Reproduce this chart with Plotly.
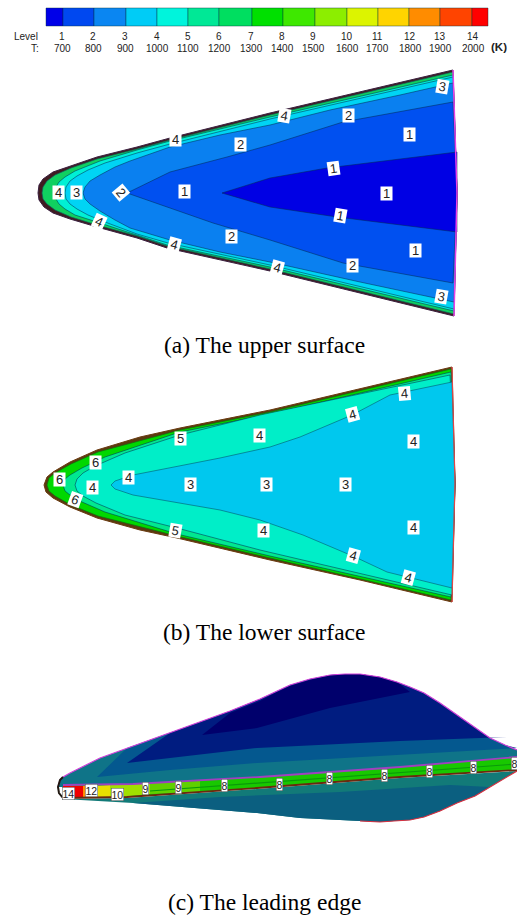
import plotly.graph_objects as go

# colour legend
bar_edges = [46, 63, 94, 126, 157, 188, 219, 252, 283, 315, 347, 378, 409, 440, 472, 488]
bar_colors = ['#0000e8', '#0048f0', '#0a86f2', '#00ccf6', '#00f4dc', '#00e896', '#00de60', '#00e000',
              '#3ee800', '#8cee00', '#dcf400', '#ffd400', '#ff8c00', '#ff4400', '#ff0000']
level_names = ['1', '2', '3', '4', '5', '6', '7', '8', '9', '10', '11', '12', '13', '14']
temps = ['700', '800', '900', '1000', '1100', '1200', '1300', '1400', '1500', '1600', '1700', '1800', '1900', '2000']
level_x = [62, 93, 125, 157, 188, 219, 251, 282, 313, 347, 377, 410, 440, 473]

# (a) upper surface, outermost region first
up_outline = [(453, 70), (360, 92), (270, 113), (170, 138), (137, 147), (97, 157), (70, 166), (53, 172), (43, 179), (39, 185), (38, 193),
              (39, 200), (44, 207), (53, 213), (70, 219), (97, 227), (137, 238), (167, 248), (270, 271), (360, 293), (454, 316), (457, 193)]
up_green = [(453, 72), (270, 115), (170, 140), (137, 149), (97, 159), (71, 168), (55, 175), (47, 181), (43, 187), (42, 193),
            (43, 199), (47, 204), (55, 210), (71, 217), (97, 225), (137, 236), (167, 246), (270, 269), (454, 314), (457, 193)]
up_turq = [(453, 75), (270, 117), (170, 141), (137, 150), (100, 161), (75, 171), (65, 177), (59, 182), (56, 187), (55, 193),
           (56, 199), (59, 204), (65, 209), (75, 215), (100, 223), (137, 235), (167, 245), (270, 267), (454, 311), (457, 193)]
up_cyan = [(453, 77), (270, 119), (170, 144), (137, 153), (105, 163), (88, 170), (77, 176), (70, 181), (66, 187), (65, 193),
           (66, 199), (70, 204), (77, 209), (88, 215), (105, 222), (137, 234), (168, 243), (270, 265), (454, 309), (457, 193)]
up_mid = [(453, 83), (400, 95), (330, 110), (270, 125), (220, 135), (170, 147), (130, 161), (115, 167), (100, 175), (90, 181), (85, 187), (83, 193),
          (85, 199), (90, 204), (100, 211), (115, 220), (130, 228), (170, 240), (220, 252), (270, 262), (360, 282), (454, 302), (457, 193)]
up_blue = [(453, 102), (343, 122), (270, 145), (227, 157), (170, 172), (127, 193), (170, 208), (213, 223),
           (270, 240), (343, 263), (453, 283), (457, 193)]
up_deep = [(457, 152), (327, 168), (270, 178), (222, 193), (270, 207), (337, 217), (457, 232)]

up_labels = ['4', '3', '2', '1', '4', '2', '4', '2', '3', '1', '1', '1', '1', '1', '2', '4', '2', '4', '4', '3']
up_label_x = [58, 76, 121, 184, 175, 240, 284, 348, 442, 409, 333, 386, 340, 415, 352, 277, 231, 174, 99, 441]
up_label_y = [192, 192, 192, 191, 139, 144, 115, 115, 86, 134, 168, 193, 215, 250, 265, 267, 236, 244, 221, 296]
up_label_ang = [0, 0, 50, 0, 0, 0, 10, 0, 10, 0, -8, 0, 10, 0, 0, 15, 0, 15, 25, 10]

# (b) lower surface
lo_outline = [(452, 367), (360, 389), (270, 410), (180, 428), (140, 437), (97, 450), (70, 462), (53, 472), (47, 477), (44, 485),
              (46, 492), (53, 498), (70, 507), (97, 518), (140, 530), (177, 538), (270, 560), (360, 580), (452, 602), (455, 483)]
lo_green = [(451, 369), (270, 412), (180, 430), (98, 452), (71, 464), (55, 473), (49, 478), (47, 485),
            (49, 491), (55, 496), (71, 505), (98, 516), (177, 536), (270, 558), (451, 600), (455, 483)]
lo_spring = [(451, 372), (270, 414), (180, 432), (105, 457), (82, 468), (70, 475), (65, 479), (63, 485),
             (65, 491), (70, 495), (82, 502), (105, 512), (177, 534), (270, 556), (451, 597), (455, 483)]
lo_turq = [(450, 375), (260, 415), (180, 435), (125, 453), (95, 466), (83, 473), (77, 479), (75, 485),
           (77, 491), (83, 496), (96, 503), (125, 515), (177, 528), (260, 550), (452, 595), (455, 483)]
lo_cyan = [(452, 382), (390, 395), (352, 415), (300, 437), (270, 447), (220, 458), (133, 475), (115, 481), (111, 485),
           (115, 489), (133, 495), (220, 510), (260, 520), (303, 535), (355, 557), (387, 572), (452, 588), (455, 483)]

lo_labels = ['6', '6', '4', '4', '6', '5', '4', '3', '3', '3', '4', '4', '4', '4', '4', '4', '4', '5']
lo_label_x = [59, 95, 92, 128, 75, 180, 259, 190, 266, 345, 352, 404, 413, 413, 353, 408, 263, 175]
lo_label_y = [479, 462, 487, 477, 499, 438, 435, 484, 484, 484, 414, 393, 441, 527, 555, 577, 530, 530]
lo_label_ang = [0, 0, 0, 0, 20, 0, 0, 0, 0, 0, -15, -5, 0, 0, 15, 15, 0, 10]

# (c) leading edge
le_top_outline = [(58, 787), (60, 780), (63, 777), (70, 773), (100, 758), (130, 747), (170, 733), (200, 722), (230, 711), (260, 699),
                  (275, 692), (290, 685), (310, 679), (330, 675), (345, 674), (360, 674), (380, 677), (397, 682), (410, 687),
                  (424, 693), (440, 703), (457, 715), (475, 728), (490, 738), (505, 745), (517, 750)]
le_top_base = [(517, 757), (400, 767), (260, 777), (133, 785), (63, 787)]
le_band3 = [(517, 748), (400, 755), (257, 763), (170, 770), (97, 777), (127, 748), (200, 722), (330, 700), (490, 738), (505, 745)]
le_band2 = [(507, 737), (400, 741), (257, 748), (170, 758), (127, 763), (170, 733), (200, 722), (230, 711), (260, 699), (275, 692),
            (290, 685), (310, 679), (330, 675), (345, 674), (360, 674), (380, 677), (397, 682), (410, 687), (424, 693), (440, 703),
            (457, 715), (475, 728), (490, 738)]
le_band1 = [(410, 692), (330, 708), (257, 728), (202, 735), (230, 713), (260, 701), (275, 693), (290, 686), (310, 680), (330, 675),
            (345, 674), (360, 674), (380, 677), (397, 682)]
le_strip = [(63, 785), (133, 784), (260, 777), (400, 767), (517, 757), (517, 770), (400, 777), (257, 788), (127, 797), (63, 798)]
le_red = [(63, 786), (83, 786), (83, 798), (63, 798)]
le_orange = [(83, 786), (95, 786), (95, 798), (83, 798)]
le_yellow = [(95, 786), (110, 785), (110, 798), (95, 798)]
le_lime = [(110, 785), (150, 783), (150, 794), (110, 798)]
le_bright = [(150, 783), (200, 781), (200, 792), (150, 794)]
le_streak = [(150, 791), (257, 783), (400, 773), (517, 764)]
le_bottom = [(63, 799), (127, 798), (257, 789), (400, 778), (517, 771), (505, 778), (490, 787), (475, 796), (457, 803), (440, 811),
             (424, 817), (410, 820), (394, 821), (380, 822), (360, 821), (300, 818), (257, 813), (133, 803)]
le_bottom_band = [(133, 803), (220, 797), (340, 792), (450, 785), (490, 787), (475, 796), (457, 803), (440, 811), (424, 817), (410, 820),
                  (394, 821), (380, 822), (360, 821), (300, 818), (257, 813)]
le_nose = [(63, 777), (60, 780), (58, 787), (59, 793), (63, 798)]

le_labels = ['14', '12', '10', '9', '9', '8', '8', '8', '8', '8', '8', '8']
le_label_x = [68, 91, 117, 145, 178, 224, 279, 329, 384, 429, 473, 514]
le_label_y = [793, 790, 794, 788, 787, 785, 784, 778, 775, 771, 767, 763]

captions = ['(a) The upper surface', '(b) The lower surface', '(c) The leading edge']
caption_y = [345, 632, 902]

fig = go.Figure()


def add_poly(points, color, line='rgba(0,40,80,0.75)', width=0.7):
    xs = [p[0] for p in points] + [points[0][0]]
    ys = [p[1] for p in points] + [points[0][1]]
    fig.add_trace(go.Scatter(x=xs, y=ys, mode='lines', fill='toself', fillcolor=color,
                             line=dict(color=line, width=width), hoverinfo='skip', showlegend=False))


def add_line(points, color, width):
    fig.add_trace(go.Scatter(x=[p[0] for p in points], y=[p[1] for p in points], mode='lines',
                             line=dict(color=color, width=width), hoverinfo='skip', showlegend=False))


# legend bar
fig.add_trace(go.Bar(x=[(a + b) / 2 for a, b in zip(bar_edges[:-1], bar_edges[1:])], y=[18] * 15, base=[8] * 15,
                     width=[b - a for a, b in zip(bar_edges[:-1], bar_edges[1:])],
                     marker=dict(color=bar_colors, line=dict(color='rgba(0,50,60,0.6)', width=0.7)),
                     hoverinfo='skip', showlegend=False))

# upper surface
add_poly(up_outline, '#401c20', line='#3a2040', width=1)
add_poly(up_green, '#10d060', line='#106060')
add_poly(up_turq, '#00f0d4')
add_poly(up_cyan, '#00d4f4')
add_poly(up_mid, '#0a80f0')
add_poly(up_blue, '#0050f0')
add_poly(up_deep, '#0000e4')
add_line([up_outline[0], up_outline[-1], up_outline[20]], '#e840e8', 1.5)

# lower surface
add_poly(lo_outline, '#5a3a10', line='#6a3a10', width=1)
add_poly(lo_green, '#00d800', line='#107010')
add_poly(lo_spring, '#00e890')
add_poly(lo_turq, '#00eec8')
add_poly(lo_cyan, '#00c8ee', line='rgba(0,90,110,0.85)')
add_line([lo_outline[0], lo_outline[-1], lo_outline[18]], '#e04848', 1.2)

# leading edge
no_line = 'rgba(0,0,0,0)'
add_poly(le_top_outline + le_top_base, '#0f7488', line=no_line)
add_poly(le_band3, '#04588f', line=no_line)
add_poly(le_band2, '#001c80', line=no_line)
add_poly(le_band1, '#00006c', line=no_line)
add_poly(le_bottom, '#127a78', line=no_line)
add_poly(le_bottom_band, '#0b5f80', line=no_line)
add_poly(le_strip, '#18c800', line=no_line)
add_poly(le_red, '#f00000', line=no_line)
add_poly(le_orange, '#ff8c00', line=no_line)
add_poly(le_yellow, '#e8e000', line=no_line)
add_poly(le_lime, '#a0e000', line=no_line)
add_poly(le_bright, '#60d000', line=no_line)
add_line(le_streak, '#0a9a0a', 1.2)
add_line(le_strip[:5], '#a040c0', 1.8)
add_line(le_strip[5:], '#6a2a10', 1.8)
add_line(le_top_outline, '#d040d8', 1.2)
add_line(le_bottom[4:15], '#d83040', 1.2)
add_line(le_nose, '#201810', 2)

fig.update_xaxes(range=[0, 517], visible=False, fixedrange=True)
fig.update_yaxes(range=[915, 0], visible=False, fixedrange=True)
fig.update_layout(width=517, height=915, margin=dict(l=0, r=0, t=0, b=0), paper_bgcolor='white',
                  plot_bgcolor='white', barmode='overlay', showlegend=False)

sans = 'Liberation Sans, Arial, sans-serif'
serif = 'Liberation Serif, Times New Roman, serif'


def add_text(text, x, y, size, family=sans, color='#222222', **kw):
    fig.add_annotation(x=x, y=y, text=text, showarrow=False, font=dict(family=family, size=size, color=color),
                       xref='x', yref='y', **kw)


add_text('Level', 26, 36, 10)
add_text('T:', 35, 48, 10)
add_text('<b>(K)</b>', 499, 47, 11.5)
for name, temp, x in zip(level_names, temps, level_x):
    add_text(name, x, 36, 10)
    add_text(temp, x, 48, 10)

for labels, xs, ys, angs in [(up_labels, up_label_x, up_label_y, up_label_ang),
                             (lo_labels, lo_label_x, lo_label_y, lo_label_ang)]:
    for t, x, y, a in zip(labels, xs, ys, angs):
        add_text(t, x, y, 13, textangle=a, bgcolor='white', borderpad=0, width=11, height=13)

for t, x, y in zip(le_labels, le_label_x, le_label_y):
    add_text(t, x, y, 10.5, bgcolor='white', borderpad=0, bordercolor='#555555', borderwidth=0.5)

for t, y in zip(captions, caption_y):
    add_text(t, 264, y, 23.5, family=serif, color='#000000')

fig.write_html("out.html", config=dict(displayModeBar=False),
               post_script="document.body.style.margin='0';document.body.style.overflow='hidden';")
